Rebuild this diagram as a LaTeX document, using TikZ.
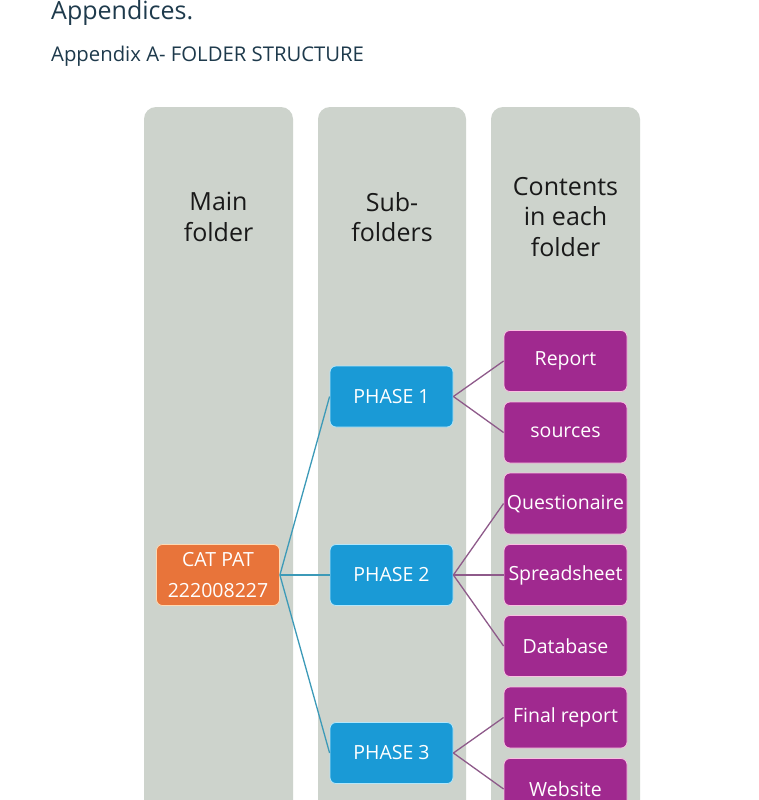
\documentclass[tikz,border=0pt]{standalone}
\usepackage{fontspec}
\setmainfont{Open Sans}
\definecolor{colbg}{HTML}{CDD3CC}
\definecolor{orangebox}{HTML}{E8743A}
\definecolor{bluebox}{HTML}{1A9AD6}
\definecolor{purplebox}{HTML}{A0298F}
\definecolor{bluelink}{HTML}{3C9AB8}
\definecolor{purplelink}{HTML}{8E5A8A}
\definecolor{titlecol}{HTML}{1E3A4C}
\tikzset{
  colband/.style={fill=colbg, draw=none, rounded corners=12pt},
  colhead/.style={font=\fontsize{25}{30.5}\selectfont, text=black!90, align=center},
  mainbox/.style={fill=orangebox, draw=orange!30, line width=0.8pt, rounded corners=6pt, minimum width=123pt, minimum height=61pt, text=white, align=center, font=\fontsize{19.5}{31}\selectfont, inner sep=1pt},
  phasebox/.style={fill=bluebox, draw=cyan!30, line width=0.8pt, rounded corners=6pt, minimum width=123pt, minimum height=61pt, text=white, font=\fontsize{19.5}{22}\selectfont},
  itembox/.style={fill=purplebox, draw=magenta!25, line width=0.8pt, rounded corners=6pt, minimum width=123pt, minimum height=61pt, text=white, font=\fontsize{19.5}{22}\selectfont, inner sep=1pt},
  bluecon/.style={draw=bluelink, line width=1.3pt},
  purplecon/.style={draw=purplelink, line width=1.3pt},
}
\begin{document}
\begin{tikzpicture}[x=1pt,y=1pt]
\useasboundingbox (0,0) rectangle (759,-800);
\clip (0,0) rectangle (759,-800);
\fill[white] (0,0) rectangle (759,-800);
% titles
\node[anchor=base west, inner sep=0, text=titlecol, font=\fontsize{25}{30}\selectfont] (t1) at (51,-20) {Appendices.};
\node[anchor=base west, inner sep=0, text=titlecol, font=\fontsize{20.3}{24}\selectfont] (t2) at (51,-62) {Appendix A- FOLDER STRUCTURE};
% column bands
\path[colband] (144,-107) rectangle (293,-830);
\path[colband] (318,-107) rectangle (466,-830);
\path[colband] (491,-107) rectangle (640,-830);
\node[colhead] (h1) at (218.5,-217) {Main\\folder};
\node[colhead] (h2) at (392,-217) {Sub-\\folders};
\node[colhead] (h3) at (565.5,-217) {Contents\\in each\\folder};
% nodes
\node[mainbox] (cat) at (218,-575) {CAT PAT\\222008227};
\node[phasebox] (p1) at (391.5,-396.5) {PHASE 1};
\node[phasebox] (p2) at (391.5,-575) {PHASE 2};
\node[phasebox] (p3) at (391.5,-753) {PHASE 3};
\node[itembox] (r) at (565.5,-361) {Report};
\node[itembox] (s) at (565.5,-432.5) {sources};
\node[itembox] (q) at (565.5,-503.5) {Questionaire};
\node[itembox] (sp) at (565.5,-575) {Spreadsheet};
\node[itembox] (db) at (565.5,-646) {Database};
\node[itembox] (fr) at (565.5,-717.5) {Final report};
\node[itembox] (w) at (565.5,-789) {Website};
% connectors
\draw[bluecon] (cat.east) -- (p1.west);
\draw[bluecon] (cat.east) -- (p2.west);
\draw[bluecon] (cat.east) -- (p3.west);
\draw[purplecon] (p1.east) -- (r.west);
\draw[purplecon] (p1.east) -- (s.west);
\draw[purplecon] (p2.east) -- (q.west);
\draw[purplecon] (p2.east) -- (sp.west);
\draw[purplecon] (p2.east) -- (db.west);
\draw[purplecon] (p3.east) -- (fr.west);
\draw[purplecon] (p3.east) -- (w.west);
\end{tikzpicture}
\end{document}
